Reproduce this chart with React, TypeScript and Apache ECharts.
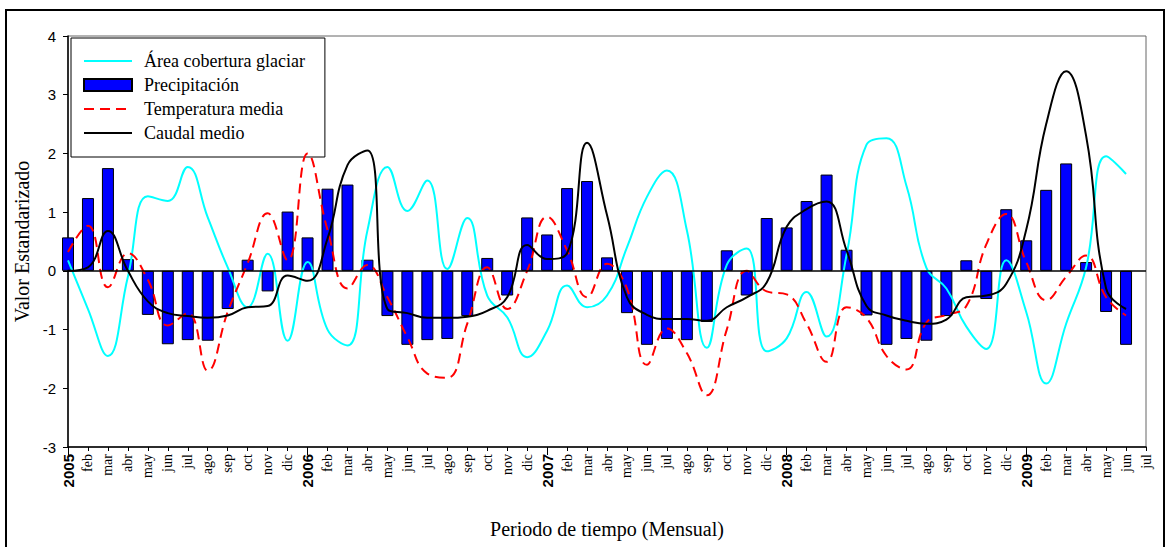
import React, { useEffect, useRef } from "react";
import * as echarts from "echarts";

const years = ["2005", "2006", "2007", "2008", "2009"];
const monthNames = ["feb", "mar", "abr", "may", "jun", "jul", "ago", "sep", "oct", "nov", "dic"];
const lastYearMonths = ["feb", "mar", "abr", "may", "jun", "jul"];

const categories: string[] = [];
years.forEach((y, k) => {
  categories.push(y);
  (k < years.length - 1 ? monthNames : lastYearMonths).forEach((m) => categories.push(m));
});

// Precipitación (standardized), jan 2005 .. jun 2009
const precipitacion = [
  0.57, 1.24, 1.75, 0.2, -0.75, -1.25, -1.18, -1.19, -0.65, 0.19, -0.35, 1.01,
  0.57, 1.4, 1.47, 0.19, -0.77, -1.26, -1.18, -1.16, -0.77, 0.22, -0.42, 0.91,
  0.62, 1.41, 1.53, 0.23, -0.72, -1.26, -1.16, -1.18, -0.87, 0.35, -0.42, 0.9,
  0.74, 1.19, 1.64, 0.36, -0.76, -1.26, -1.16, -1.19, -0.77, 0.18, -0.48, 1.05,
  0.52, 1.38, 1.83, 0.15, -0.7, -1.26,
];

// Área cobertura glaciar
const areaGlaciar = [
  0.18, -0.65, -1.45, -0.1, 1.27, 1.19, 1.77, 0.91, 0.06, -0.62, 0.29, -1.19,
  0.15, -1.0, -1.27, 0.69, 1.77, 1.02, 1.54, 0.03, 0.9, -0.42, -0.79, -1.47,
  -1.02, -0.25, -0.62, -0.42, 0.4, 1.26, 1.71, 0.69, -1.31, 0.1, 0.38, -1.37,
  -1.15, -0.36, -1.12, 0.27, 2.15, 2.26, 1.45, 0.05, -0.3, -0.95, -1.33, 0.18,
  -0.7, -1.92, -0.9, 0.06, 1.95, 1.65,
];

// Temperatura media
const temperatura = [
  0.32, 0.77, -0.28, 0.3, -0.15, -0.93, -0.72, -1.7, -0.7, 0.13, 0.98, 0.18,
  2.0, 0.7, -0.3, 0.1, -0.45, -1.13, -1.75, -1.82, -0.9, 0.06, -0.65, 0.0,
  0.92, 0.35, -0.45, 0.12, -0.3, -1.6, -0.98, -1.4, -2.12, -1.0, 0.0, -0.35,
  -0.4, -0.9, -1.55, -0.62, -0.8, -1.45, -1.68, -0.88, -0.75, -0.6, 0.45, 0.97,
  0.15, -0.5, -0.1, 0.26, -0.45, -0.76,
];

// Caudal medio
const caudal = [
  0.0, 0.06, 0.68, 0.0, -0.52, -0.72, -0.77, -0.8, -0.76, -0.62, -0.6, -0.08,
  -0.17, 0.55, 1.8, 2.05, -0.65, -0.72, -0.8, -0.8, -0.78, -0.68, -0.45, 0.44,
  0.2, 0.3, 2.18, 0.95, -0.45, -0.75, -0.82, -0.82, -0.85, -0.62, -0.45, -0.2,
  0.75, 1.05, 1.18, 0.35, -0.6, -0.76, -0.85, -0.9, -0.83, -0.45, -0.42, -0.22,
  0.7, 2.5, 3.4, 2.3, -0.3, -0.65,
];

const SERIF = "'Liberation Serif', 'Times New Roman', serif";
const SANS = "'Liberation Sans', Arial, sans-serif";

export default function App() {
  const ref = useRef<HTMLDivElement>(null);

  useEffect(() => {
    if (!ref.current) return;
    const chart = echarts.init(ref.current, undefined, { renderer: "svg" });
    const hideSym = { opacity: 0 };
    chart.setOption({
      animation: false,
      backgroundColor: "#fff",
      graphic: [
        {
          type: "rect",
          silent: true,
          z: -1,
          shape: { x: 6, y: 10, width: 1158, height: 560 },
          style: { fill: "none", stroke: "#000", lineWidth: 2 },
        },
      ],
      grid: {
        left: 68,
        right: 21,
        top: 36,
        bottom: 100,
        show: true,
        borderColor: "#666",
        borderWidth: 1,
        backgroundColor: "transparent",
      },
      legend: {
        orient: "vertical",
        left: 71,
        top: 38,
        padding: [14, 20, 15, 12],
        itemGap: 6,
        itemWidth: 48,
        itemHeight: 12,
        borderColor: "#000",
        borderWidth: 1,
        backgroundColor: "#fff",
        data: [
          { name: "Área cobertura glaciar", itemStyle: hideSym },
          { name: "Precipitación", icon: "rect" },
          { name: "Temperatura media", itemStyle: hideSym },
          { name: "Caudal medio", itemStyle: hideSym },
        ],
        textStyle: { fontSize: 18, fontFamily: SERIF, color: "#000", padding: [0, 0, 0, 7] },
      },
      xAxis: [
        {
          type: "category",
          data: categories,
          boundaryGap: false,
          position: "bottom",
          name: "Periodo de tiempo (Mensual)",
          nameLocation: "middle",
          nameGap: 72,
          nameTextStyle: { fontSize: 20, fontFamily: SERIF, color: "#000" },
          axisLine: { onZero: false, lineStyle: { color: "#000", width: 1.5 } },
          axisTick: { show: true, interval: 0, length: 4, lineStyle: { color: "#000" } },
          axisLabel: {
            interval: 0,
            rotate: 90,
            margin: 7,
            formatter: (v: string) => (/^\d{4}$/.test(v) ? `{y|${v}}` : `{m|${v}}`),
            rich: {
              y: { fontFamily: SANS, fontWeight: "bold", fontSize: 15, color: "#000" },
              m: { fontFamily: SERIF, fontSize: 14, color: "#000" },
            },
          },
          splitLine: { show: false },
        },
        {
          type: "category",
          data: categories,
          boundaryGap: false,
          position: "bottom",
          axisLine: { show: false, onZero: false },
          axisTick: {
            show: true,
            length: 8,
            interval: (idx: number) => idx % 12 === 0,
            lineStyle: { color: "#000" },
          },
          axisLabel: { show: false },
          splitLine: { show: false },
        },
      ],
      yAxis: {
        type: "value",
        min: -3,
        max: 4,
        interval: 1,
        name: "Valor Estandarizado",
        nameLocation: "middle",
        nameGap: 34,
        nameTextStyle: { fontSize: 20, fontFamily: SERIF, color: "#000" },
        axisLine: { show: true, lineStyle: { color: "#000", width: 1.5 } },
        axisTick: { show: true, length: 5, lineStyle: { color: "#000" } },
        axisLabel: { fontFamily: SANS, fontSize: 15, color: "#000", margin: 12 },
        splitLine: { show: false },
      },
      series: [
        {
          name: "Precipitación",
          type: "bar",
          data: precipitacion,
          barWidth: 12,
          clip: true,
          itemStyle: { color: "#0000FF", borderColor: "#000", borderWidth: 1 },
          markLine: {
            silent: true,
            symbol: "none",
            label: { show: false },
            lineStyle: { color: "#000", type: "solid", width: 1.5 },
            data: [{ yAxis: 0 }],
          },
          z: 2,
        },
        {
          name: "Área cobertura glaciar",
          type: "line",
          data: areaGlaciar,
          smooth: 0.45,
          symbol: "none",
          lineStyle: { color: "#00FFFF", width: 2 },
          itemStyle: { color: "#00FFFF" },
          z: 3,
        },
        {
          name: "Temperatura media",
          type: "line",
          data: temperatura,
          smooth: 0.45,
          symbol: "none",
          lineStyle: { color: "#FF0000", width: 2, type: [10, 6] },
          itemStyle: { color: "#FF0000" },
          z: 4,
        },
        {
          name: "Caudal medio",
          type: "line",
          data: caudal,
          smooth: 0.45,
          symbol: "none",
          lineStyle: { color: "#000", width: 2 },
          itemStyle: { color: "#000" },
          z: 5,
        },
      ],
    });
    return () => chart.dispose();
  }, []);

  return (
    <div
      ref={ref}
      style={{ position: "fixed", left: 0, top: 0, width: 1167, height: 547, background: "#fff" }}
    />
  );
}
